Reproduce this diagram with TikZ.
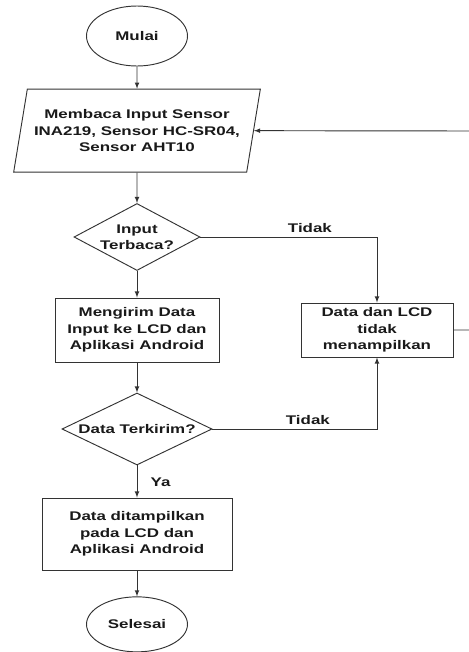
\documentclass[tikz,border=0pt]{standalone}
\usepackage{fontspec}
\newfontfamily\flowfont{Liberation Sans}[FakeStretch=1.35]
\usepackage{tikz}
\usetikzlibrary{shapes, shapes.geometric, arrows, positioning, calc}

\begin{document}
\begin{tikzpicture}[
  line width=0.8pt, draw=black!80, >=latex,
  every node/.style={font=\flowfont\bfseries\fontsize{10.7}{14}\selectfont, text=black!90},
  terminal/.style={draw, ellipse, minimum width=3.03cm, minimum height=1.8cm, inner sep=0pt},
  inout/.style={draw, trapezium, trapezium left angle=72, trapezium right angle=108, trapezium stretches body,
    minimum width=7.4cm, minimum height=2.49cm, inner sep=0pt, align=center},
  process/.style={draw, rectangle, inner sep=0pt, align=center},
  decision/.style={draw, diamond, inner sep=-3pt, align=center}
]
  \useasboundingbox (0,0) rectangle (14.07,-19.56);

  % Flow nodes
  \node[terminal] (mulai) at (4.11, -1.08) {Mulai};
  \node[inout] (baca) at (4.11, -3.92) {Membaca Input Sensor\\INA219, Sensor HC-SR04,\\Sensor AHT10};
  \node[decision, minimum width=3.78cm, minimum height=2.01cm, aspect=1.88] (cek1) at (4.11, -7.11) {Input\\Terbaca?};
  \node[process, minimum width=4.92cm, minimum height=1.92cm] (kirim) at (4.11, -9.9) {Mengirim Data\\Input ke LCD dan\\Aplikasi Android};
  \node[process, minimum width=4.56cm, minimum height=1.62cm] (gagal) at (11.31, -9.9) {Data dan LCD\\tidak\\menampilkan};
  \node[decision, minimum width=4.5cm, minimum height=2.16cm, aspect=2.08] (cek2) at (4.11, -12.87) {Data Terkirim?};
  \node[process, minimum width=5.7cm, minimum height=2.16cm] (tampil) at (4.11, -16.02) {Data ditampilkan\\pada LCD dan\\Aplikasi Android};
  \node[terminal, minimum height=1.65cm] (selesai) at (4.11, -18.73) {Selesai};

  % Loop corners (just past the right edge)
  \coordinate (kanan) at (14.12, -9.9);
  \coordinate (atas) at (14.12, -3.93);

  % Arrows
  \draw[->] (mulai) -- (baca);
  \draw[->] (baca) -- (cek1);
  \draw[->] (cek1) -- (kirim);
  \draw[->] (kirim) -- (cek2);
  \draw[->] (cek2) -- node[right, xshift=8pt, yshift=-1pt] (ya) {Ya} (tampil);
  \draw[->] (tampil) -- (selesai);
  \draw[->] (cek1.east) -| node[above, pos=0.31] (tidak1) {Tidak} (gagal.north);
  \draw[->] (cek2.east) -| node[above, pos=0.29] (tidak2) {Tidak} (gagal.south);
  \draw[->] (gagal.east) -- (kanan) -- (atas) -- (baca.east);

\end{tikzpicture}
\end{document}
